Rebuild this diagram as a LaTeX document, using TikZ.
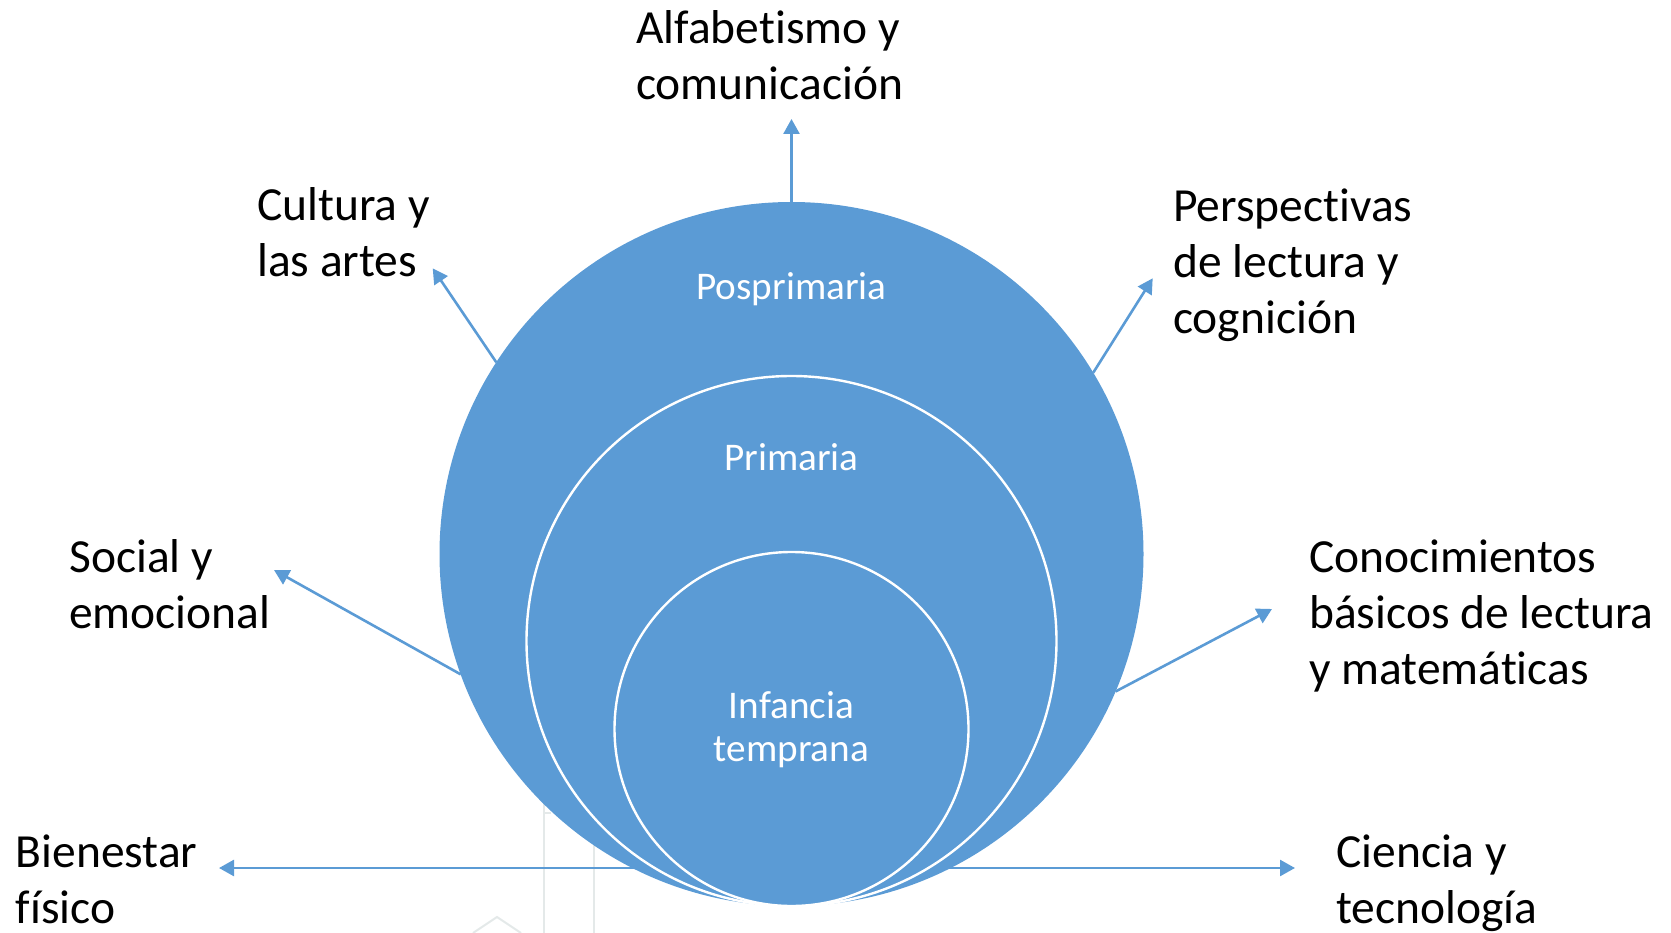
\documentclass[tikz,border=0pt]{standalone}
\usepackage{fontspec}
\setmainfont{Carlito}[Ligatures=NoCommon]
\usetikzlibrary{arrows.meta}
\definecolor{accent}{HTML}{5B9BD5}
\definecolor{ghost}{HTML}{E4E9E9}
\tikzset{
  ring/.style={circle, inner sep=0pt, outer sep=0pt, fill=accent},
  innerring/.style={ring, draw=white, line width=2.4pt},
  conn/.style={draw=accent, line width=2.6pt, -{Triangle[width=16pt,length=15pt]}},
  outerlabel/.style={anchor=base west, align=left, inner sep=0pt, font=\fontsize{47.5}{56}\selectfont, text=black},
  ringlabel/.style={anchor=base, align=center, inner sep=0pt, font=\fontsize{39.2}{43.5}\selectfont, text=white},
  faint/.style={draw=ghost, line width=2pt}
}
\begin{document}
\begin{tikzpicture}[x=1pt, y=-1pt]
\useasboundingbox (0,0) rectangle (1671,933);
% faint background marks
\coordinate (g1a) at (544,800);
\coordinate (g1b) at (544,933);
\coordinate (g1c) at (551,813);
\coordinate (g2a) at (594,830);
\coordinate (g2b) at (594,933);
\coordinate (g3a) at (473,933);
\coordinate (g3b) at (497,917);
\coordinate (g3c) at (521,933);
\draw[faint] (g1b) -- (g1a);
\draw[faint] (544,813) -- (g1c);
\draw[faint] (g2a) -- (g2b);
\draw[faint] (g3a) -- (g3b) -- (g3c);
% horizontal connectors behind the circles
\coordinate (hub) at (791.5,868);
\coordinate (tBien) at (219,868);
\coordinate (tCien) at (1295,868);
\draw[conn] (hub) -- (tBien);
\draw[conn] (hub) -- (tCien);
% circles
\node[ring, minimum size=704pt] (post) at (791.5,554) {};
\node[innerring, minimum size=530pt] (prim) at (791.5,641) {};
\node[innerring, minimum size=354pt] (early) at (791.5,729) {};
% circle labels (anchor = baseline of last line)
\node[ringlabel] (lpost) at (791.5,300) {Posprimaria};
\node[ringlabel] (lprim) at (791.5,470) {Primaria};
\node[ringlabel] (learly) at (791.5,761.5) {Infancia\\temprana};
% arrow tips
\coordinate (tTop) at (791.5,119);
\coordinate (tCult) at (432.7,268.3);
\coordinate (tPers) at (1152.7,278.3);
\coordinate (tSoc) at (274,570);
\coordinate (tCono) at (1272,609);
\draw[conn] (post.90) -- (tTop);
\draw[conn] (post.147.5) -- (tCult);
\draw[conn] (post.31.1) -- (tPers);
\draw[conn] (post.200) -- (tSoc);
\draw[conn] (post.337.2) -- (tCono);
% outer labels (anchor = baseline of last line)
\node[outerlabel] (alf) at (636,100) {Alfabetismo y\\comunicación};
\node[outerlabel] (cul) at (257,277) {Cultura y\\las artes};
\node[outerlabel] (per) at (1173,334) {Perspectivas\\de lectura y\\cognición};
\node[outerlabel] (soc) at (69,628) {Social y\\emocional};
\node[outerlabel] (con) at (1309,684) {Conocimientos\\básicos de lectura\\y matemáticas};
\node[outerlabel] (bie) at (15.6,923) {Bienestar\\físico};
\node[outerlabel] (cie) at (1336,923) {Ciencia y\\tecnología};
\end{tikzpicture}
\end{document}
